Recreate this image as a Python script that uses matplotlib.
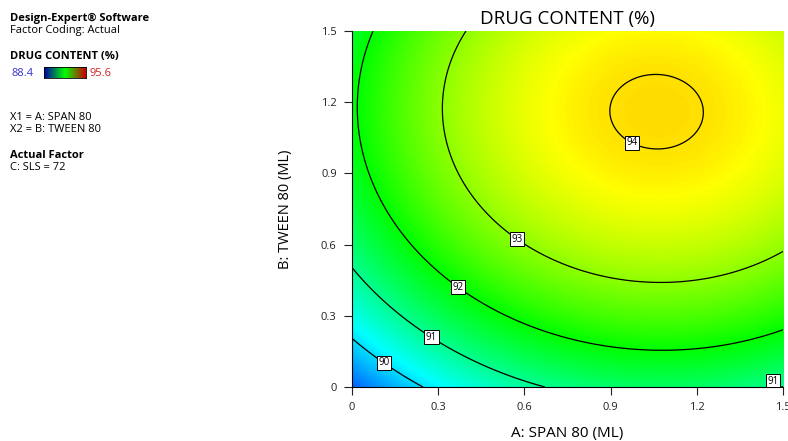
import numpy as np
import matplotlib
matplotlib.use("Agg")
import matplotlib.pyplot as plt
from matplotlib.colors import LinearSegmentedColormap, Normalize

plt.rcParams['font.family'] = ['Open Sans', 'DejaVu Sans']

# factor ranges (ML)
span80 = np.linspace(0, 1.5, 301)
tween80 = np.linspace(0, 1.5, 301)

# fitted response surface for drug content (%)
peak = 94.05
peak_at = [1.06, 1.16]
curvature = [1.89, 2.03]
interaction = -0.073

levels = [90, 91, 92, 93, 94]
label_pos = [(0.115, 0.11), (0.282, 0.219), (1.47, 0.02), (0.376, 0.43), (0.581, 0.636), (0.97, 1.02)]
x_ticks = [0, 0.3, 0.6, 0.9, 1.2, 1.5]
y_ticks = [0, 0.3, 0.6, 0.9, 1.2, 1.5]
tick_text = ['0', '0.3', '0.6', '0.9', '1.2', '1.5']
resp_low, resp_high = 88.4, 95.6

A, B = np.meshgrid(span80, tween80)
dA = A - peak_at[0]
dB = B - peak_at[1]
Z = peak - curvature[0] * dA ** 2 - curvature[1] * dB ** 2 + interaction * dA * dB

cmap = LinearSegmentedColormap.from_list(
    'de', ['#0000ff', '#00ffff', '#00ff00', '#ffff00', '#ff0000'])
norm = Normalize(resp_low, resp_high)

fig = plt.figure(figsize=(7.88, 4.41), dpi=100)
ax = fig.add_axes([0.4467, 0.1224, 0.547, 0.8073])
ax.imshow(Z, origin='lower', extent=[0, 1.5, 0, 1.5], cmap=cmap, norm=norm,
          aspect='auto', interpolation='bilinear')
cs = ax.contour(A, B, Z, levels=levels, colors='black', linewidths=0.9)
lbls = ax.clabel(cs, fmt='%d', fontsize=7, inline=False, manual=label_pos)
for t in lbls:
    t.set_rotation(0)
    t.set_bbox(dict(boxstyle='square,pad=0.15', fc='white', ec='black', lw=0.7))
    # keep the corner label inside the plot
    x, y = t.get_position()
    if x > 1.44:
        t.set_position((1.465, 0.025))

ax.set_xlim(0, 1.5)
ax.set_ylim(0, 1.5)
ax.set_xticks(x_ticks)
ax.set_yticks(y_ticks)
ax.set_xticklabels(tick_text)
ax.set_yticklabels(tick_text)
ax.tick_params(direction='out', length=6, width=0.8, labelsize=8, colors='#222222', pad=5)
for s in ['top', 'right']:
    ax.spines[s].set_visible(False)
ax.set_xlabel('A: SPAN 80 (ML)', fontsize=11, labelpad=9)
ax.set_ylabel('B: TWEEN 80 (ML)', fontsize=10.5, labelpad=20)
ax.set_title('DRUG CONTENT (%)', fontsize=13.5, pad=5)

# info panel on the left
W, H = 788, 441
def txt(x, y, s, **kw):
    fig.text(x / W, 1 - y / H, s, va='center', ha='left', fontsize=8, **kw)

txt(10, 18, 'Design-Expert® Software', fontweight='bold')
txt(10, 31, 'Factor Coding: Actual')
txt(10, 57, 'DRUG CONTENT (%)', fontweight='bold')
txt(12, 73, '88.4', color='#3333cc')
txt(90, 73, '95.6', color='#cc2222')
cax = fig.add_axes([44 / W, 1 - 78 / H, 42 / W, 11 / H])
cax.imshow(np.linspace(0, 1, 100)[None, :], aspect='auto',
           cmap=LinearSegmentedColormap.from_list('bar', ['#0000aa', '#00ff00', '#cc0000']))
cax.set_xticks([])
cax.set_yticks([])
for s in cax.spines.values():
    s.set_linewidth(0.6)
txt(10, 117, 'X1 = A: SPAN 80')
txt(10, 130, 'X2 = B: TWEEN 80')
txt(10, 155, 'Actual Factor', fontweight='bold')
txt(10, 168, 'C: SLS = 72')

fig.savefig('out.png', dpi=100)
